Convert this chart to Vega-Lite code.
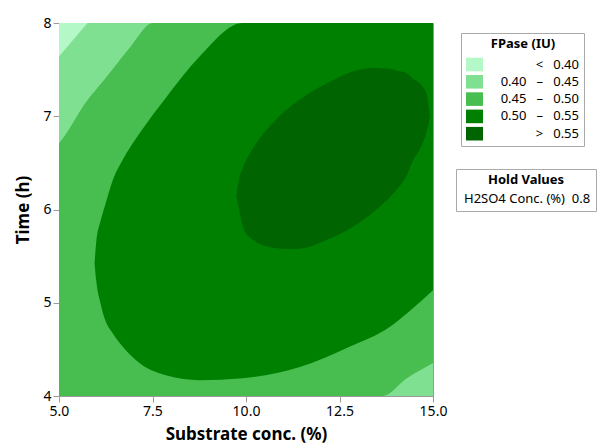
{
  "$schema": "https://vega.github.io/schema/vega-lite/v6.json",
  "width": 374,
  "height": 373,
  "autosize": {"type": "none"},
  "padding": {"left": 59, "top": 23, "right": 172, "bottom": 52},
  "config": {
    "font": "Noto Sans",
    "view": {"stroke": "#9a9a9a", "strokeWidth": 1},
    "axis": {
      "domainColor": "#9a9a9a",
      "tickColor": "#9a9a9a",
      "tickSize": 6,
      "labelFontSize": 14,
      "labelColor": "#000000",
      "titleFontSize": 17,
      "titleFontWeight": "bold",
      "titleColor": "#000000",
      "grid": false,
      "labelPadding": 2,
      "labelFlush": false,
      "zindex": 1
    },
    "legend": {
      "labelColor": "#000000",
      "titleColor": "#000000",
      "strokeColor": "#aaaaaa"
    }
  },
  "layer": [
    {
      "data": {
        "values": [
          {"level": "< 0.40", "x": 5, "top": 8, "bot": 4},
          {"level": "< 0.40", "x": 15, "top": 8, "bot": 4},
          {"level": "0.40 – 0.45", "x": 5, "top": 7.64, "bot": 4},
          {"level": "0.40 – 0.45", "x": 5.76, "top": 8, "bot": 4},
          {"level": "0.40 – 0.45", "x": 15, "top": 8, "bot": 4},
          {"level": "0.45 – 0.50", "x": 5, "top": 6.71, "bot": 4},
          {"level": "0.45 – 0.50", "x": 5.2, "top": 6.818, "bot": 4},
          {"level": "0.45 – 0.50", "x": 5.64, "top": 7.104, "bot": 4},
          {"level": "0.45 – 0.50", "x": 6.28, "top": 7.426, "bot": 4},
          {"level": "0.45 – 0.50", "x": 6.89, "top": 7.735, "bot": 4},
          {"level": "0.45 – 0.50", "x": 7.51, "top": 8, "bot": 4},
          {"level": "0.45 – 0.50", "x": 13.66, "top": 8, "bot": 4},
          {"level": "0.45 – 0.50", "x": 14.29, "top": 8, "bot": 4.187},
          {"level": "0.45 – 0.50", "x": 15, "top": 8, "bot": 4.354},
          {"level": "0.50 – 0.55", "x": 5.95, "top": 5.42, "bot": 5.42},
          {"level": "0.50 – 0.55", "x": 6.0, "top": 5.67, "bot": 5.22},
          {"level": "0.50 – 0.55", "x": 6.1, "top": 5.86, "bot": 5.01},
          {"level": "0.50 – 0.55", "x": 6.22, "top": 6.03, "bot": 4.83},
          {"level": "0.50 – 0.55", "x": 6.44, "top": 6.317, "bot": 4.67},
          {"level": "0.50 – 0.55", "x": 6.7, "top": 6.53, "bot": 4.53},
          {"level": "0.50 – 0.55", "x": 7.16, "top": 6.82, "bot": 4.35},
          {"level": "0.50 – 0.55", "x": 7.88, "top": 7.21, "bot": 4.22},
          {"level": "0.50 – 0.55", "x": 8.76, "top": 7.64, "bot": 4.17},
          {"level": "0.50 – 0.55", "x": 9.91, "top": 8, "bot": 4.19},
          {"level": "0.50 – 0.55", "x": 11.44, "top": 8, "bot": 4.31},
          {"level": "0.50 – 0.55", "x": 12.78, "top": 8, "bot": 4.53},
          {"level": "0.50 – 0.55", "x": 13.84, "top": 8, "bot": 4.74},
          {"level": "0.50 – 0.55", "x": 14.4, "top": 8, "bot": 4.92},
          {"level": "0.50 – 0.55", "x": 15, "top": 8, "bot": 5.135},
          {"level": "> 0.55", "x": 9.74, "top": 6.15, "bot": 6.15},
          {"level": "> 0.55", "x": 9.83, "top": 6.35, "bot": 5.97},
          {"level": "> 0.55", "x": 9.92, "top": 6.45, "bot": 5.815},
          {"level": "> 0.55", "x": 10.1, "top": 6.6, "bot": 5.7},
          {"level": "> 0.55", "x": 10.19, "top": 6.66, "bot": 5.672},
          {"level": "> 0.55", "x": 10.72, "top": 6.93, "bot": 5.59},
          {"level": "> 0.55", "x": 11.17, "top": 7.1, "bot": 5.576},
          {"level": "> 0.55", "x": 11.44, "top": 7.18, "bot": 5.58},
          {"level": "> 0.55", "x": 12.15, "top": 7.35, "bot": 5.672},
          {"level": "> 0.55", "x": 12.86, "top": 7.48, "bot": 5.815},
          {"level": "> 0.55", "x": 13.4, "top": 7.517, "bot": 5.97},
          {"level": "> 0.55", "x": 13.58, "top": 7.515, "bot": 6.03},
          {"level": "> 0.55", "x": 13.84, "top": 7.509, "bot": 6.13},
          {"level": "> 0.55", "x": 14.02, "top": 7.49, "bot": 6.209},
          {"level": "> 0.55", "x": 14.29, "top": 7.463, "bot": 6.36},
          {"level": "> 0.55", "x": 14.47, "top": 7.4, "bot": 6.532},
          {"level": "> 0.55", "x": 14.64, "top": 7.355, "bot": 6.64},
          {"level": "> 0.55", "x": 14.82, "top": 7.25, "bot": 6.82},
          {"level": "> 0.55", "x": 14.92, "top": 7.0, "bot": 7.0}
        ]
      },
      "encoding": {
        "x": {
          "field": "x",
          "type": "quantitative",
          "scale": {"domain": [5, 15], "nice": false, "zero": false},
          "axis": {"values": [5, 7.5, 10, 12.5, 15], "format": ".1f", "titlePadding": 8},
          "title": "Substrate conc. (%)"
        },
        "y": {
          "field": "top",
          "type": "quantitative",
          "scale": {"domain": [4, 8], "nice": false, "zero": false},
          "axis": {"values": [4, 5, 6, 7, 8], "format": "d", "titlePadding": 10},
          "title": "Time (h)"
        },
        "y2": {"field": "bot"},
        "color": {
          "field": "level",
          "type": "nominal",
          "scale": {
            "domain": ["< 0.40", "0.40 – 0.45", "0.45 – 0.50", "0.50 – 0.55", "> 0.55"],
            "range": ["#b4f8c8", "#80e091", "#48bd50", "#008000", "#006400"]
          },
          "legend": {
            "orient": "none",
            "legendX": 402,
            "legendY": 10,
            "title": "FPase (IU)",
            "titleAnchor": "middle",
            "titleFontSize": 13,
            "titleFontWeight": "bold",
            "labelFontSize": 13,
            "symbolType": "M-1,-0.8H1V0.8H-1Z",
            "symbolSize": 289,
            "symbolStrokeWidth": 0,
            "labelAlign": "right",
            "labelOffset": 96,
            "labelExpr": "replace(replace(replace(datum.label, ' – ', '\u00a0\u00a0\u00a0–\u00a0\u00a0\u00a0'), '< ', '<\u00a0\u00a0\u00a0'), '> ', '>\u00a0\u00a0\u00a0') + '\u00a0\u00a0\u00a0'",
            "rowPadding": 1.3,
            "padding": 5
          }
        }
      },
      "layer": [
        {"transform": [{"filter": "datum.level === '< 0.40'"}], "mark": {"type": "area", "interpolate": "linear"}},
        {"transform": [{"filter": "datum.level === '0.40 – 0.45'"}], "mark": {"type": "area", "interpolate": "linear"}},
        {"transform": [{"filter": "datum.level === '0.45 – 0.50'"}], "mark": {"type": "area", "interpolate": "monotone"}},
        {"transform": [{"filter": "datum.level === '0.50 – 0.55'"}], "mark": {"type": "area", "interpolate": "monotone"}},
        {"transform": [{"filter": "datum.level === '> 0.55'"}], "mark": {"type": "area", "interpolate": "monotone"}}
      ]
    },
    {
      "data": {"values": [{"hold": "H2SO4 Conc. (%)\u00a0\u00a00.8"}]},
      "mark": {"type": "point", "opacity": 0},
      "encoding": {
        "shape": {
          "field": "hold",
          "type": "nominal",
          "legend": {
            "orient": "none",
            "legendX": 397,
            "legendY": 146,
            "title": "Hold Values",
            "titleAnchor": "middle",
            "titleFontSize": 13,
            "titleFontWeight": "bold",
            "labelFontSize": 13,
            "symbolSize": 0,
            "symbolOpacity": 0,
            "symbolStrokeWidth": 0,
            "labelOffset": -10,
            "padding": 5
          }
        }
      }
    }
  ]
}
